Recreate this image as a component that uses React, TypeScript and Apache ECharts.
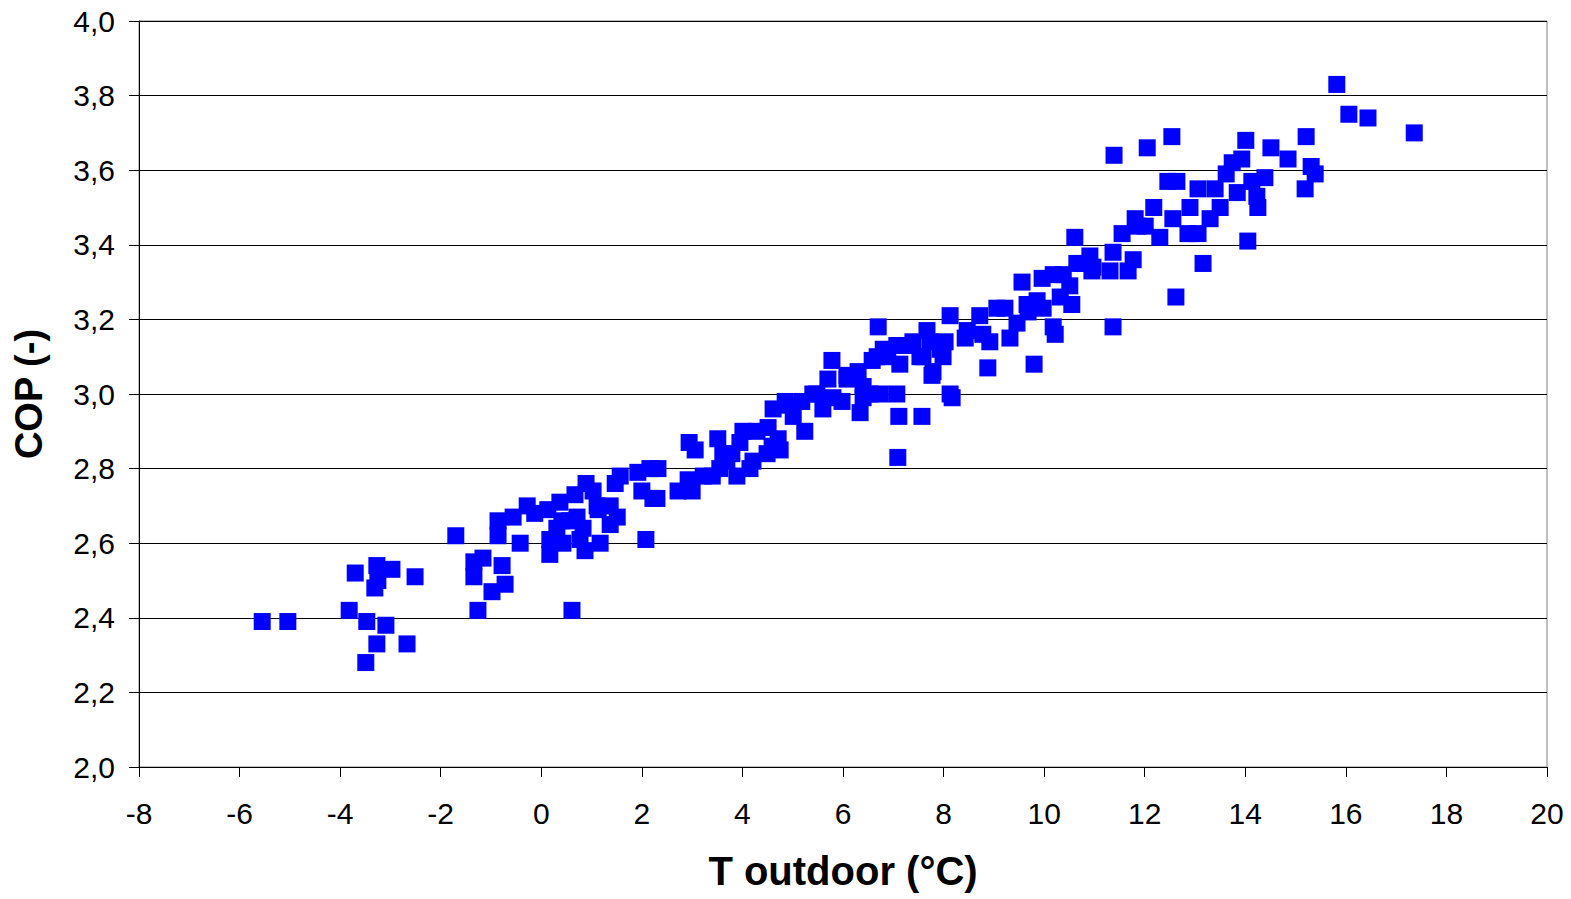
import React, { useEffect, useRef } from "react";
import * as echarts from "echarts";

// Outdoor temperature (°C) per measurement
const tOutdoor: number[] = [
  -5.55, -5.04, -3.82, -3.7, -3.27, -2.97, -3.25, -3.31, -2.51, -3.47, -3.09, -3.27, -2.67, -3.49,
  -1.7, -1.34, -1.16, -1.34, -0.78, -0.98, -0.72, -1.26, 0.61, -0.86, -0.56, -0.86, -0.42, -0.13,
  0.17, 0.37, 0.67, 0.89, 1.03, 0.57, 0.71, 0.83, 1.13, 1.17, 0.87, 0.43, 1.37, 1.51, 1.37, 1.57,
  1.47, 1.92, 2.16, 2.32, 2.0, 2.22, 2.08, 2.72, 3.0, 2.94, 3.06, 2.92, 3.22, 3.51, 3.55, 3.61, 2.3,
  0.13, -0.28, 0.41, 0.77, 1.11, 0.31, 0.17,
  3.89, 3.79, 4.01, 4.21, 4.61, 4.51, 4.59, 4.71, 4.75, 4.85, 5.01, 5.18, 5.24, 5.48, 5.6, 5.78,
  5.7, 5.8, 5.98, 6.08, 6.3, 6.34, 6.4, 6.54, 6.58, 6.8, 6.89, 7.07, 6.7, 7.13, 6.74, 7.07, 7.11,
  7.57, 7.09, 7.39, 7.53, 7.73, 7.79, 7.93, 8.13, 8.17,
  4.89, 4.29, 3.95, 4.49, 5.4, 6.08, 6.68, 6.4, 3.4, 4.15, 3.69,
  7.37, 7.67, 7.77, 7.59, 7.99, 8.13, 8.03, 8.47, 8.43, 8.72, 8.78, 8.92, 8.88, 9.06, 9.22, 9.32,
  9.46, 9.56, 9.66, 9.68, 9.8, 9.86, 9.96, 9.98, 10.18, 10.22, 10.18, 10.32, 10.38, 10.51, 10.55,
  10.61, 10.65, 10.91, 10.97, 11.31, 11.37, 11.37, 11.55, 11.67, 11.77, 11.85,
  15.82, 16.06, 16.44, 17.36, 11.39, 12.05, 12.54, 14.01, 14.51, 14.85, 15.21, 15.31, 15.39, 15.19,
  13.74, 13.93, 13.62, 14.39, 14.13, 13.84, 14.23, 14.25, 12.46, 12.64, 13.06, 13.4, 12.9, 13.5,
  13.3, 12.18, 12.56, 11.81, 12.01, 12.3, 12.86, 13.06, 14.05, 13.16, 12.62,
  10.95, 10.77,
];

// Coefficient of performance for the same measurements
const cop: number[] = [
  2.39, 2.39, 2.42, 2.52, 2.54, 2.53, 2.5, 2.48, 2.51, 2.39, 2.38, 2.33, 2.33, 2.28,
  2.62, 2.55, 2.56, 2.51, 2.54, 2.47, 2.49, 2.42, 2.42, 2.66, 2.67, 2.62, 2.6, 2.68,
  2.57, 2.71, 2.73, 2.76, 2.74, 2.66, 2.67, 2.64, 2.69, 2.6, 2.58, 2.6, 2.7, 2.67, 2.65, 2.78,
  2.76, 2.79, 2.8, 2.8, 2.74, 2.72, 2.61, 2.74, 2.74, 2.87, 2.85, 2.77, 2.78, 2.88, 2.8, 2.84, 2.72,
  2.69, 2.7, 2.66, 2.61, 2.7, 2.64, 2.61,
  2.78, 2.84, 2.9, 2.82, 2.96, 2.91, 2.86, 2.88, 2.85, 2.98, 2.94, 2.98, 2.9, 3.0, 2.96, 3.09,
  3.04, 2.99, 2.98, 3.05, 3.06, 2.95, 3.02, 3.0, 3.09, 3.12, 3.1, 3.13, 3.18, 3.08, 3.0, 3.0, 2.94,
  2.94, 2.83, 3.14, 3.1, 3.14, 3.06, 3.12, 3.0, 2.99,
  2.97, 2.9, 2.87, 2.84, 3.0, 3.04, 3.1, 2.99, 2.78, 2.8, 2.82,
  3.13, 3.17, 3.05, 3.1, 3.1, 3.21, 3.14, 3.17, 3.15, 3.21, 3.16, 3.14, 3.07, 3.23, 3.23, 3.15,
  3.19, 3.3, 3.24, 3.22, 3.08, 3.25, 3.31, 3.23, 3.18, 3.16, 3.32, 3.26, 3.32, 3.29, 3.24,
  3.42, 3.35, 3.37, 3.34, 3.33, 3.18, 3.38, 3.43, 3.33, 3.36, 3.45,
  3.83, 3.75, 3.74, 3.7, 3.64, 3.66, 3.69, 3.68, 3.66, 3.63, 3.69, 3.61, 3.59, 3.55,
  3.62, 3.63, 3.59, 3.58, 3.57, 3.54, 3.53, 3.5, 3.57, 3.57, 3.55, 3.55, 3.5, 3.5,
  3.47, 3.5, 3.47, 3.47, 3.45, 3.42, 3.43, 3.43, 3.41, 3.35, 3.26,
  3.33, 3.35,
];

const xTitle = "T outdoor (°C)";
const yTitle = "COP (-)";

const FONT = "'Liberation Sans', Arial, sans-serif";

export default function App() {
  const ref = useRef<HTMLDivElement>(null);

  useEffect(() => {
    if (!ref.current) return;
    const chart = echarts.init(ref.current, undefined, { renderer: "svg" });
    const points = tOutdoor.map((t, i) => [t, cop[i]]);

    chart.setOption({
      animation: false,
      backgroundColor: "#ffffff",
      textStyle: { fontFamily: FONT },
      grid: {
        left: 139,
        right: 24,
        top: 21,
        bottom: 132,
        show: true,
        borderColor: "#808080",
        borderWidth: 1,
        backgroundColor: "#ffffff",
      },
      xAxis: {
        type: "value",
        min: -8,
        max: 20,
        interval: 2,
        name: xTitle,
        nameLocation: "middle",
        nameGap: 84,
        nameTextStyle: { fontFamily: FONT, fontSize: 40, fontWeight: "bold", color: "#000" },
        axisLine: { show: true, onZero: false, lineStyle: { color: "#000", width: 1 } },
        axisTick: { show: true, length: 10, inside: false, lineStyle: { color: "#000" } },
        axisLabel: { fontFamily: FONT, fontSize: 30, color: "#000", margin: 31 },
        splitLine: { show: false },
      },
      yAxis: {
        type: "value",
        min: 2,
        max: 4,
        interval: 0.2,
        name: yTitle,
        nameLocation: "middle",
        nameGap: 91,
        nameRotate: 90,
        nameTextStyle: { fontFamily: FONT, fontSize: 38, fontWeight: "bold", color: "#000" },
        axisLine: { show: true, onZero: false, lineStyle: { color: "#000", width: 1 } },
        axisTick: { show: true, length: 10, inside: false, lineStyle: { color: "#000" } },
        axisLabel: {
          fontFamily: FONT,
          fontSize: 30,
          color: "#000",
          margin: 24,
          formatter: (v: number) => v.toFixed(1).replace(".", ","),
        },
        splitLine: { show: true, lineStyle: { color: "#000", width: 1 } },
      },
      series: [
        {
          type: "scatter",
          data: points,
          symbol: "rect",
          symbolSize: 17,
          itemStyle: { color: "#0000FF", opacity: 1 },
        },
      ],
    });

    return () => chart.dispose();
  }, []);

  return (
    <div
      ref={ref}
      style={{ position: "fixed", left: 0, top: 0, width: 1571, height: 899, background: "#fff" }}
    />
  );
}
